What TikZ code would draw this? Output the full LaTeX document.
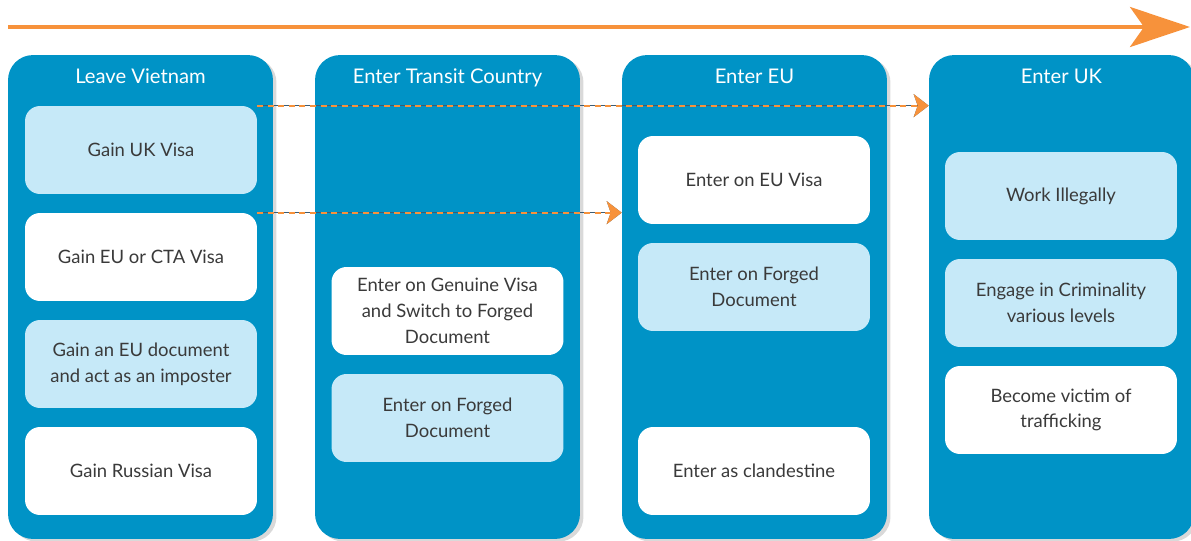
\documentclass[tikz,border=0pt]{standalone}
\usepackage{fontspec}
\setmainfont{Lato}
\usetikzlibrary{arrows.meta,shadows}
\definecolor{colblue}{HTML}{0093C6}
\definecolor{boxblue}{HTML}{C6E9F8}
\definecolor{arrorange}{HTML}{F7923B}
\definecolor{textgray}{HTML}{3A3A3A}
\definecolor{dashline}{HTML}{3D5C73}

\begin{document}
\begin{tikzpicture}[x=0.02cm, y=-0.02cm,
    column/.style={fill=colblue, rounded corners=0.5cm, minimum width=5.3cm, minimum height=9.68cm,
        drop shadow={opacity=0.3, shadow xshift=2pt, shadow yshift=-1.5pt}},
    header/.style={text=white, text height=1.6ex, text depth=0.4ex, font=\fontsize{11.5}{14}\selectfont},
    lbox/.style={fill=boxblue, rounded corners=0.3cm, minimum width=4.64cm, minimum height=1.76cm,
        align=center, text=textgray, font=\fontsize{10.5}{14.7}\selectfont},
    wbox/.style={lbox, fill=white},
    timeline/.style={draw=arrorange, line width=2.3pt, -{Stealth[length=1.2cm, width=0.8cm, inset=0.28cm]}},
    route/.style={draw=arrorange, line width=1.2pt, dash pattern=on 3.4pt off 2.6pt,
        preaction={draw=dashline, solid, line width=0.8pt},
        -{Stealth[length=0.3cm, width=0.46cm, inset=0.08cm]}}]
    \useasboundingbox (0,0) rectangle (1191,541);
    % time line
    \coordinate (tstart) at (8,27);
    \coordinate (tend) at (1190,27);
    \draw[timeline] (tstart) -- (tend);
    % columns
    \node[column] (vncol) at (140.5,297) {};
    \node[column] (trcol) at (447.5,297) {};
    \node[column] (eucol) at (754.5,297) {};
    \node[column] (ukcol) at (1061.5,297) {};
    \node[header] (vnhead) at (140.5,78) {Leave Vietnam};
    \node[header] (trhead) at (447.5,78) {Enter Transit Country};
    \node[header] (euhead) at (754.5,78) {Enter EU};
    \node[header] (ukhead) at (1061.5,78) {Enter UK};
    % leave vietnam
    \node[lbox] (ukvisa) at (141,150) {Gain UK Visa};
    \node[wbox] (euvisa) at (141,257) {Gain EU or CTA Visa};
    \node[lbox] (imposter) at (141,364) {Gain an EU document\\and act as an imposter};
    \node[wbox] (ruvisa) at (141,471) {Gain Russian Visa};
    % transit
    \node[wbox] (switch) at (447.5,311) {Enter on Genuine Visa\\and Switch to Forged\\Document};
    \node[lbox] (trforged) at (447.5,418) {Enter on Forged\\Document};
    % eu
    \node[wbox] (oneuvisa) at (754,180) {Enter on EU Visa};
    \node[lbox] (euforged) at (754,287) {Enter on Forged\\Document};
    \node[wbox] (clandestine) at (754,471) {Enter as clandestine};
    % uk
    \node[lbox] (illegal) at (1061,196) {Work Illegally};
    \node[lbox] (crime) at (1061,303) {Engage in Criminality\\various levels};
    \node[wbox] (victim) at (1061,410) {Become victim of\\trafficking};
    % routes
    \draw[route] (ukvisa.north east) -- (ukvisa.north east -| ukcol.west);
    \draw[route] (euvisa.north east) -- (euvisa.north east -| eucol.west);
\end{tikzpicture}
\end{document}
